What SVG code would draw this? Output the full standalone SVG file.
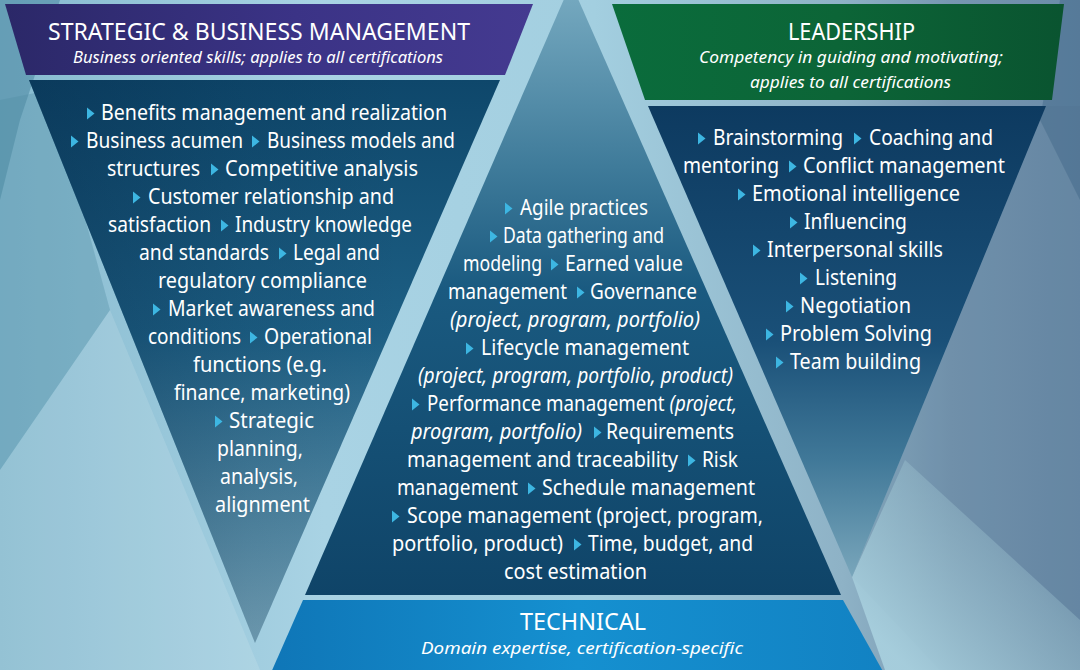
<svg xmlns="http://www.w3.org/2000/svg" xmlns:xlink="http://www.w3.org/1999/xlink" width="1080" height="670" viewBox="0 0 1080 670">
<defs>
<linearGradient id="bgG" x1="0" y1="0" x2="1080" y2="0" gradientUnits="userSpaceOnUse">
<stop offset="0" stop-color="#86bacf"/>
<stop offset="0.3" stop-color="#a9d3e4"/>
<stop offset="0.55" stop-color="#a3cfe0"/>
<stop offset="0.78" stop-color="#8eb2c6"/>
<stop offset="0.88" stop-color="#7797b1"/>
<stop offset="1" stop-color="#6a8ba8"/>
</linearGradient>
<linearGradient id="rightBg" x1="860" y1="620" x2="1060" y2="420" gradientUnits="userSpaceOnUse">
<stop offset="0" stop-color="#a9d1df" stop-opacity="0.9"/>
<stop offset="0.5" stop-color="#97bccb" stop-opacity="0.5"/>
<stop offset="1" stop-color="#7796ae" stop-opacity="0"/>
</linearGradient>
<linearGradient id="leftG" x1="0" y1="80" x2="0" y2="643" gradientUnits="userSpaceOnUse">
<stop offset="0" stop-color="#0e476b"/>
<stop offset="0.45" stop-color="#1d5f84"/>
<stop offset="0.75" stop-color="#4d84a0"/>
<stop offset="1" stop-color="#76a3b8"/>
</linearGradient>
<linearGradient id="leftShade" x1="29" y1="0" x2="400" y2="0" gradientUnits="userSpaceOnUse">
<stop offset="0" stop-color="#04223f" stop-opacity="0.35"/>
<stop offset="0.6" stop-color="#04223f" stop-opacity="0.1"/>
<stop offset="1" stop-color="#04223f" stop-opacity="0"/>
</linearGradient>
<linearGradient id="rightG" x1="0" y1="106" x2="0" y2="577" gradientUnits="userSpaceOnUse">
<stop offset="0" stop-color="#0d3a60"/>
<stop offset="0.5" stop-color="#1a5078"/>
<stop offset="0.75" stop-color="#407898"/>
<stop offset="1" stop-color="#79a6bb"/>
</linearGradient>
<linearGradient id="centerG" x1="0" y1="-17" x2="0" y2="595" gradientUnits="userSpaceOnUse">
<stop offset="0" stop-color="#79acc2"/>
<stop offset="0.3" stop-color="#3f7b9a"/>
<stop offset="0.5" stop-color="#1a5a80"/>
<stop offset="1" stop-color="#0f4468"/>
</linearGradient>
<linearGradient id="purpleG" x1="5" y1="0" x2="533" y2="0" gradientUnits="userSpaceOnUse">
<stop offset="0" stop-color="#2b2868"/>
<stop offset="0.55" stop-color="#3b3386"/>
<stop offset="1" stop-color="#443a90"/>
</linearGradient>
<linearGradient id="greenG" x1="612" y1="0" x2="1062" y2="0" gradientUnits="userSpaceOnUse">
<stop offset="0" stop-color="#0a6c3c"/>
<stop offset="0.5" stop-color="#0c6537"/>
<stop offset="1" stop-color="#0a5430"/>
</linearGradient>
<linearGradient id="techG" x1="270" y1="0" x2="885" y2="0" gradientUnits="userSpaceOnUse">
<stop offset="0" stop-color="#0f76b7"/>
<stop offset="0.5" stop-color="#1590d0"/>
<stop offset="1" stop-color="#1282c3"/>
</linearGradient>
<path id="b" d="M0,-12.5 L7.5,-6.5 L0,-0.5 Z"/>
<style>
.t{font-family:"Noto Sans","Open Sans","DejaVu Sans",sans-serif;font-size:21px;fill:#ffffff}
.i{font-style:italic}
.h{font-family:"Noto Sans","Open Sans","DejaVu Sans",sans-serif;font-size:24px;fill:#ffffff}
.s{font-family:"Noto Sans","Open Sans","DejaVu Sans",sans-serif;font-size:17px;font-style:italic;fill:#ffffff}
.bl{fill:#3db6e2}
</style>
</defs>

<g id="background">
<rect x="0" y="0" width="1080" height="670" fill="url(#bgG)"/>
<polygon points="0,0 60,0 20,120 0,200" fill="#3f7d96" opacity="0.45"/>
<polygon points="0,100 50,90 110,310 0,470" fill="#4f8ba3" opacity="0.35"/>
<polygon points="0,470 110,310 260,670 0,670" fill="#ffffff" opacity="0.12"/>
<polygon points="1080,0 1060,0 1040,120 1080,200" fill="#3f6587" opacity="0.45"/>
<polygon points="1046,106 1080,106 1080,670 940,670 852,577" fill="#4a6a88" opacity="0.15"/>
<polygon points="852,577 905,460 1080,620 1080,670 885,670" fill="url(#rightBg)"/>
</g>

<g id="connectors"/>

<g id="node-strategic">
<polygon points="29,80 500,80 255,643" fill="url(#leftG)"/>
<polygon points="29,80 500,80 255,643" fill="url(#leftShade)"/>
<polygon points="5,4 533,4 505,75 26,75" fill="url(#purpleG)"/>
<text class="h" x="48" y="40" textLength="422" lengthAdjust="spacingAndGlyphs">STRATEGIC &amp; BUSINESS MANAGEMENT</text>
<text class="s" x="73" y="63" textLength="370" lengthAdjust="spacingAndGlyphs">Business oriented skills; applies to all certifications</text>
<g class="bl">
<use xlink:href="#b" x="87" y="120"/>
<use xlink:href="#b" x="71" y="148"/>
<use xlink:href="#b" x="252" y="148"/>
<use xlink:href="#b" x="211" y="176"/>
<use xlink:href="#b" x="133" y="204"/>
<use xlink:href="#b" x="221" y="232"/>
<use xlink:href="#b" x="279" y="260"/>
<use xlink:href="#b" x="153" y="316"/>
<use xlink:href="#b" x="250" y="344"/>
<use xlink:href="#b" x="215" y="428"/>
</g>
<g class="t">
<text x="101" y="120" textLength="346" lengthAdjust="spacingAndGlyphs">Benefits management and realization</text>
<text x="86" y="148" textLength="157" lengthAdjust="spacingAndGlyphs">Business acumen</text>
<text x="267" y="148" textLength="188" lengthAdjust="spacingAndGlyphs">Business models and</text>
<text x="107" y="176" textLength="93" lengthAdjust="spacingAndGlyphs">structures</text>
<text x="225" y="176" textLength="193" lengthAdjust="spacingAndGlyphs">Competitive analysis</text>
<text x="148" y="204" textLength="246" lengthAdjust="spacingAndGlyphs">Customer relationship and</text>
<text x="108" y="232" textLength="103" lengthAdjust="spacingAndGlyphs">satisfaction</text>
<text x="235" y="232" textLength="177" lengthAdjust="spacingAndGlyphs">Industry knowledge</text>
<text x="139" y="260" textLength="130" lengthAdjust="spacingAndGlyphs">and standards</text>
<text x="293" y="260" textLength="87" lengthAdjust="spacingAndGlyphs">Legal and</text>
<text x="158" y="288" textLength="209" lengthAdjust="spacingAndGlyphs">regulatory compliance</text>
<text x="168" y="316" textLength="207" lengthAdjust="spacingAndGlyphs">Market awareness and</text>
<text x="148" y="344" textLength="93" lengthAdjust="spacingAndGlyphs">conditions</text>
<text x="264" y="344" textLength="108" lengthAdjust="spacingAndGlyphs">Operational</text>
<text x="193" y="372" textLength="134" lengthAdjust="spacingAndGlyphs">functions (e.g.</text>
<text x="174" y="400" textLength="176" lengthAdjust="spacingAndGlyphs">finance, marketing)</text>
<text x="229" y="428" textLength="85" lengthAdjust="spacingAndGlyphs">Strategic</text>
<text x="217" y="456" textLength="86" lengthAdjust="spacingAndGlyphs">planning,</text>
<text x="220" y="484" textLength="78" lengthAdjust="spacingAndGlyphs">analysis,</text>
<text x="215" y="512" textLength="95" lengthAdjust="spacingAndGlyphs">alignment</text>
</g>
</g>

<g id="node-leadership">
<polygon points="648,106 1046,106 852,577" fill="url(#rightG)"/>
<polygon points="612,4 1064,4 1052,100 645,100" fill="url(#greenG)"/>
<text class="h" x="788" y="40" textLength="127" lengthAdjust="spacingAndGlyphs">LEADERSHIP</text>
<text class="s" x="699" y="63" textLength="304" lengthAdjust="spacingAndGlyphs">Competency in guiding and motivating;</text>
<text class="s" x="750" y="88" textLength="201" lengthAdjust="spacingAndGlyphs">applies to all certifications</text>
<g class="bl">
<use xlink:href="#b" x="698" y="145"/>
<use xlink:href="#b" x="854" y="145"/>
<use xlink:href="#b" x="789" y="173"/>
<use xlink:href="#b" x="738" y="201"/>
<use xlink:href="#b" x="790" y="229"/>
<use xlink:href="#b" x="753" y="257"/>
<use xlink:href="#b" x="800" y="285"/>
<use xlink:href="#b" x="786" y="313"/>
<use xlink:href="#b" x="766" y="341"/>
<use xlink:href="#b" x="776" y="369"/>
</g>
<g class="t">
<text x="713" y="145" textLength="130" lengthAdjust="spacingAndGlyphs">Brainstorming</text>
<text x="869" y="145" textLength="124" lengthAdjust="spacingAndGlyphs">Coaching and</text>
<text x="683" y="173" textLength="96" lengthAdjust="spacingAndGlyphs">mentoring</text>
<text x="803" y="173" textLength="202" lengthAdjust="spacingAndGlyphs">Conflict management</text>
<text x="752" y="201" textLength="208" lengthAdjust="spacingAndGlyphs">Emotional intelligence</text>
<text x="804" y="229" textLength="103" lengthAdjust="spacingAndGlyphs">Influencing</text>
<text x="767" y="257" textLength="176" lengthAdjust="spacingAndGlyphs">Interpersonal skills</text>
<text x="815" y="285" textLength="82" lengthAdjust="spacingAndGlyphs">Listening</text>
<text x="800" y="313" textLength="111" lengthAdjust="spacingAndGlyphs">Negotiation</text>
<text x="780" y="341" textLength="152" lengthAdjust="spacingAndGlyphs">Problem Solving</text>
<text x="790" y="369" textLength="131" lengthAdjust="spacingAndGlyphs">Team building</text>
</g>
</g>

<g id="node-technical">
<polygon points="571,-17 841,595 305,595" fill="url(#centerG)"/>
<polygon points="303,600 843,600 885,675 270,675" fill="url(#techG)"/>
<text class="h" x="520" y="630" textLength="126" lengthAdjust="spacingAndGlyphs">TECHNICAL</text>
<text class="s" x="421" y="654" textLength="322" lengthAdjust="spacingAndGlyphs">Domain expertise, certification-specific</text>
<g class="bl">
<use xlink:href="#b" x="505" y="215"/>
<use xlink:href="#b" x="490" y="243"/>
<use xlink:href="#b" x="551" y="271"/>
<use xlink:href="#b" x="577" y="299"/>
<use xlink:href="#b" x="466" y="355"/>
<use xlink:href="#b" x="412" y="411"/>
<use xlink:href="#b" x="594" y="439"/>
<use xlink:href="#b" x="688" y="467"/>
<use xlink:href="#b" x="528" y="495"/>
<use xlink:href="#b" x="392" y="523"/>
<use xlink:href="#b" x="574" y="551"/>
</g>
<g class="t">
<text x="520" y="215" textLength="128" lengthAdjust="spacingAndGlyphs">Agile practices</text>
<text x="503" y="243" textLength="161" lengthAdjust="spacingAndGlyphs">Data gathering and</text>
<text x="463" y="271" textLength="79" lengthAdjust="spacingAndGlyphs">modeling</text>
<text x="565" y="271" textLength="118" lengthAdjust="spacingAndGlyphs">Earned value</text>
<text x="448" y="299" textLength="119" lengthAdjust="spacingAndGlyphs">management</text>
<text x="590" y="299" textLength="107" lengthAdjust="spacingAndGlyphs">Governance</text>
<text class="i" x="450" y="327" textLength="250" lengthAdjust="spacingAndGlyphs">(project, program, portfolio)</text>
<text x="481" y="355" textLength="208" lengthAdjust="spacingAndGlyphs">Lifecycle management</text>
<text class="i" x="418" y="383" textLength="315" lengthAdjust="spacingAndGlyphs">(project, program, portfolio, product)</text>
<text x="427" y="411" textLength="310" lengthAdjust="spacingAndGlyphs">Performance management <tspan class="i">(project,</tspan></text>
<text class="i" x="411" y="439" textLength="171" lengthAdjust="spacingAndGlyphs">program, portfolio)</text>
<text x="606" y="439" textLength="128" lengthAdjust="spacingAndGlyphs">Requirements</text>
<text x="407" y="467" textLength="271" lengthAdjust="spacingAndGlyphs">management and traceability</text>
<text x="702" y="467" textLength="36" lengthAdjust="spacingAndGlyphs">Risk</text>
<text x="397" y="495" textLength="121" lengthAdjust="spacingAndGlyphs">management</text>
<text x="542" y="495" textLength="213" lengthAdjust="spacingAndGlyphs">Schedule management</text>
<text x="407" y="523" textLength="356" lengthAdjust="spacingAndGlyphs">Scope management (project, program,</text>
<text x="392" y="551" textLength="171" lengthAdjust="spacingAndGlyphs">portfolio, product)</text>
<text x="588" y="551" textLength="165" lengthAdjust="spacingAndGlyphs">Time, budget, and</text>
<text x="504" y="579" textLength="143" lengthAdjust="spacingAndGlyphs">cost estimation</text>
</g>
</g>
</svg>
